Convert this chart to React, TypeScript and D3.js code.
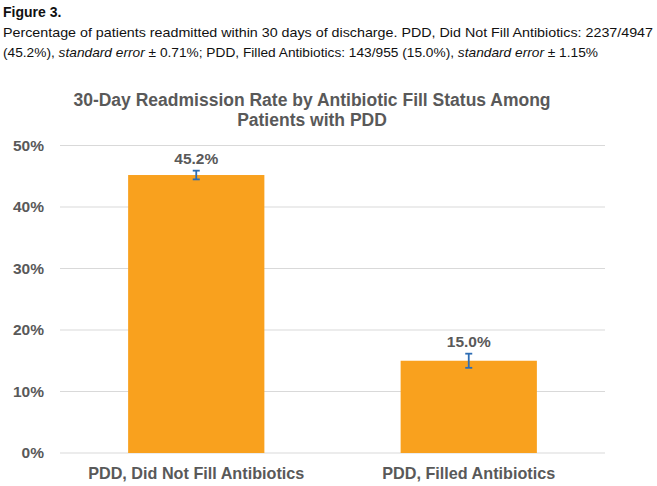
import React from "react";
import * as d3 from "d3";

// readmission rates (%) and standard errors per group
const categories = ["PDD, Did Not Fill Antibiotics", "PDD, Filled Antibiotics"];
const rates = [45.2, 15.0];
const stdErrors = [0.71, 1.15];
const yTicks = [0, 10, 20, 30, 40, 50];

const captionTitle = "Figure 3.";
const captionLines = [
  "Percentage of patients readmitted within 30 days of discharge. PDD, Did Not Fill Antibiotics: 2237/4947",
];
const chartTitle = ["30-Day Readmission Rate by Antibiotic Fill Status Among", "Patients with PDD"];

const W = 657;
const H = 486;
const plot = { left: 60, right: 605, top: 145.5, bottom: 453 };
const grey = "#595959";
const font = "Arial, 'Liberation Sans', Helvetica, sans-serif";

const App = () => {
  const x = d3
    .scaleBand<string>()
    .domain(categories)
    .range([plot.left, plot.right])
    .paddingInner(0.5)
    .paddingOuter(0.25);
  const y = d3.scaleLinear().domain([0, 50]).range([plot.bottom, plot.top]);

  return (
    <svg
      width={W}
      height={H}
      style={{ position: "absolute", left: 0, top: 0, background: "#fff" }}
      fontFamily={font}
    >
      <rect width={W} height={H} fill="#fff" />
      {/* caption above the chart */}
      <text x={3} y={17} fontSize={14} fontWeight="bold" fill="#111">
        {captionTitle}
      </text>
      <text x={3} y={37} fontSize={13.4} fill="#111" textLength={650} lengthAdjust="spacingAndGlyphs">
        {captionLines[0]}
      </text>
      <text x={3} y={57} fontSize={13.4} fill="#111" textLength={595} lengthAdjust="spacingAndGlyphs">
        <tspan>(45.2%), </tspan>
        <tspan fontStyle="italic">standard error</tspan>
        <tspan> ± 0.71%; PDD, Filled Antibiotics: 143/955 (15.0%), </tspan>
        <tspan fontStyle="italic">standard error</tspan>
        <tspan> ± 1.15%</tspan>
      </text>

      {chartTitle.map((t, i) => (
        <text
          key={t}
          x={312}
          y={106 + i * 20}
          textAnchor="middle"
          fontSize={17.5}
          fontWeight="bold"
          fill={grey}
        >
          {t}
        </text>
      ))}

      {/* gridlines and y labels */}
      {yTicks.map((t) => (
        <g key={t}>
          <line
            x1={plot.left}
            x2={plot.right}
            y1={y(t)}
            y2={y(t)}
            stroke="#d9d9d9"
            strokeWidth={1.2}
          />
          <text
            x={44}
            y={y(t)}
            dy="0.35em"
            textAnchor="end"
            fontSize={15.5}
            fontWeight="bold"
            fill={grey}
          >
            {t}%
          </text>
        </g>
      ))}

      {/* bars, error bars and value labels */}
      {categories.map((c, i) => {
        const bx = x(c)!;
        const cx = bx + x.bandwidth() / 2;
        const hi = y(rates[i] + stdErrors[i]);
        const lo = y(rates[i] - stdErrors[i]);
        return (
          <g key={c}>
            <rect
              x={bx}
              y={y(rates[i])}
              width={x.bandwidth()}
              height={y(0) - y(rates[i])}
              fill="#F9A11E"
            />
            <g stroke="#2E6DB4" strokeWidth={1.8}>
              <line x1={cx} x2={cx} y1={hi} y2={lo} />
              <line x1={cx - 3.5} x2={cx + 3.5} y1={hi} y2={hi} />
              <line x1={cx - 3.5} x2={cx + 3.5} y1={lo} y2={lo} />
            </g>
            <text
              x={cx}
              y={hi - 7}
              textAnchor="middle"
              fontSize={15.5}
              fontWeight="bold"
              fill={grey}
            >
              {rates[i].toFixed(1)}%
            </text>
            <text
              x={cx}
              y={478.5}
              textAnchor="middle"
              fontSize={16.2}
              fontWeight="bold"
              fill={grey}
            >
              {c}
            </text>
          </g>
        );
      })}
    </svg>
  );
};

export default App;
